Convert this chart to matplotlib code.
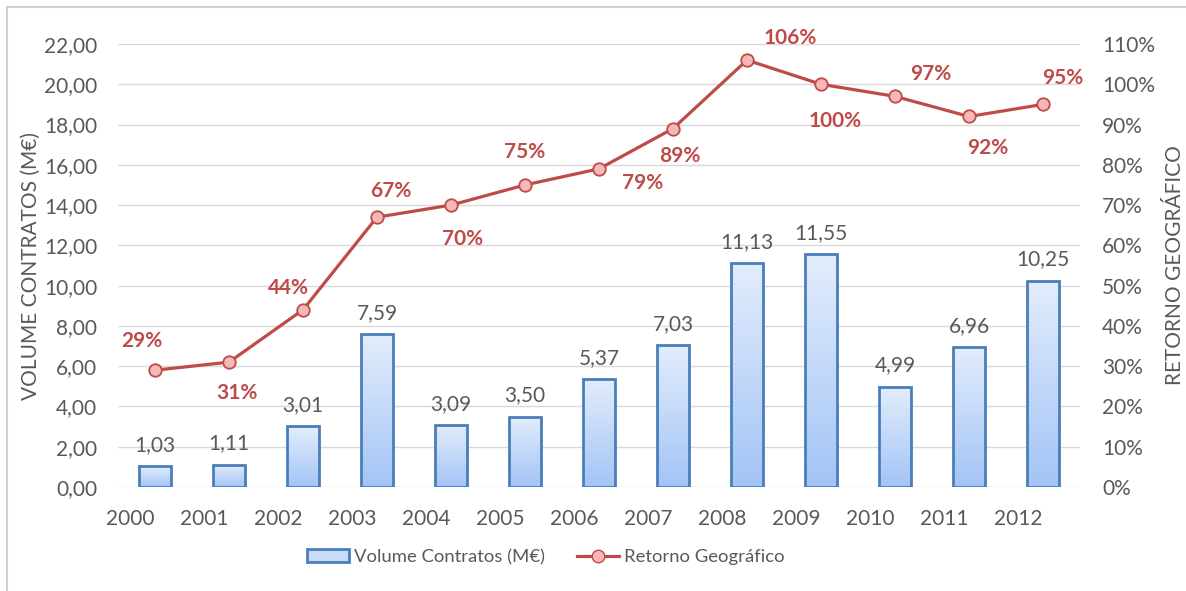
import matplotlib
matplotlib.use("Agg")
import matplotlib.pyplot as plt
import numpy as np
from matplotlib.patches import Patch
from matplotlib.lines import Line2D
from matplotlib.ticker import FuncFormatter, MultipleLocator
from matplotlib.colors import LinearSegmentedColormap

plt.rcParams['font.family'] = ['Lato', 'DejaVu Sans']

years = ["2000", "2001", "2002", "2003", "2004", "2005", "2006",
         "2007", "2008", "2009", "2010", "2011", "2012"]
volume = [1.03, 1.11, 3.01, 7.59, 3.09, 3.50, 5.37, 7.03, 11.13, 11.55, 4.99, 6.96, 10.25]
retorno = [29, 31, 44, 67, 70, 75, 79, 89, 106, 100, 97, 92, 95]

# percentage label placement relative to each marker, in pixels (x right, y up)
pct_offsets_px = [(-13, 29), (8, -31), (-15, 22), (14, 26), (12, -34), (0, 33),
                  (44, -14), (7, -27), (43, 22), (14, -37), (36, 22), (19, -32), (20, 26)]
PX = 72 / 100  # points per pixel at 100 dpi

GREY = "#595959"
RED = "#be4b48"
EDGE = "#4a7ebb"
FS = 15

fig = plt.figure(figsize=(11.86, 5.91), dpi=100)
ax = fig.add_axes([118/1186, 1-487/591, (1080-118)/1186, (487-44)/591])
ax2 = ax.twinx()

x = np.arange(len(years))
bars = ax.bar(x, volume, width=0.42, facecolor="none", edgecolor=EDGE,
              linewidth=2.0, zorder=3)

grad = LinearSegmentedColormap.from_list("barfill", ["#a3c4f6", "#e3edfc"])
gimg = np.linspace(0, 1, 256).reshape(-1, 1)
for b in bars:
    x0, y0 = b.get_x(), b.get_y()
    w, h = b.get_width(), b.get_height()
    im = ax.imshow(gimg, cmap=grad, origin="lower", aspect="auto",
                   extent=[x0, x0 + w, y0, y0 + h], zorder=2)
    im.set_clip_path(b)

for xi, v in zip(x, volume):
    ax.annotate(f"{v:.2f}".replace(".", ","), (xi, v), xytext=(0, 8),
                textcoords="offset points", ha="center", va="bottom",
                fontsize=FS, color=GREY, zorder=5)

ax.set_xlim(-0.5, len(years) - 0.5)
ax.set_ylim(0, 22)
ax.yaxis.set_major_locator(MultipleLocator(2))
ax.yaxis.set_major_formatter(FuncFormatter(lambda v, p: f"{v:.2f}".replace(".", ",")))
ax.grid(axis="y", color="#d9d9d9", linewidth=1.0, zorder=0)
ax.set_axisbelow(True)
for s in ax.spines.values():
    s.set_visible(False)
for s in ax2.spines.values():
    s.set_visible(False)

ax.set_xticks(x - 0.34)
ax.set_xticklabels(years)
ax.tick_params(axis="x", length=0, pad=16, labelsize=FS, labelcolor=GREY)
ax.tick_params(axis="y", length=0, pad=15, labelsize=FS, labelcolor=GREY)
ax.set_ylabel("VOLUME CONTRATOS (M€)", fontsize=FS, color=GREY, labelpad=2)

ax2.plot(x, retorno, color=RED, linewidth=2.3, marker="o", markersize=9,
         markerfacecolor="#f6b8b7", markeredgecolor=RED, markeredgewidth=1.3,
         zorder=4)
for xi, v, (dx, dy) in zip(x, retorno, pct_offsets_px):
    ax2.annotate(f"{v}%", (xi, v), xytext=(dx * PX, dy * PX),
                 textcoords="offset points", ha="center", va="center",
                 fontsize=FS, fontweight="bold", color=RED, zorder=6)
ax2.set_ylim(0, 110)
ax2.yaxis.set_major_locator(MultipleLocator(10))
ax2.yaxis.set_major_formatter(FuncFormatter(lambda v, p: f"{v:.0f}%"))
ax2.tick_params(axis="y", length=0, pad=16, labelsize=FS, labelcolor=GREY)
ax2.set_ylabel("RETORNO GEOGRÁFICO", fontsize=FS, color=GREY, labelpad=7)

handles = [Patch(facecolor="#c8dcf9", edgecolor=EDGE, linewidth=2.0),
           Line2D([], [], color=RED, linewidth=2.3, marker="o", markersize=9,
                  markerfacecolor="#f6b8b7", markeredgecolor=RED)]
fig.legend(handles, ["Volume Contratos (M€)", "Retorno Geográfico"],
           loc="center", bbox_to_anchor=(546/1186, 1-557/591), ncol=2,
           frameon=False, fontsize=13.3, labelcolor=GREY, handlelength=2.27,
           handleheight=0.7, handletextpad=0.27, columnspacing=1.73)

# outer frame edges
fig.add_artist(Line2D([7/1186, 7/1186], [0, 1-7/591], color="#d0d0d0", linewidth=1.5))
fig.add_artist(Line2D([7/1186, 1], [1-7/591, 1-7/591], color="#d0d0d0", linewidth=1.5))

fig.savefig("out.png", dpi=100)
